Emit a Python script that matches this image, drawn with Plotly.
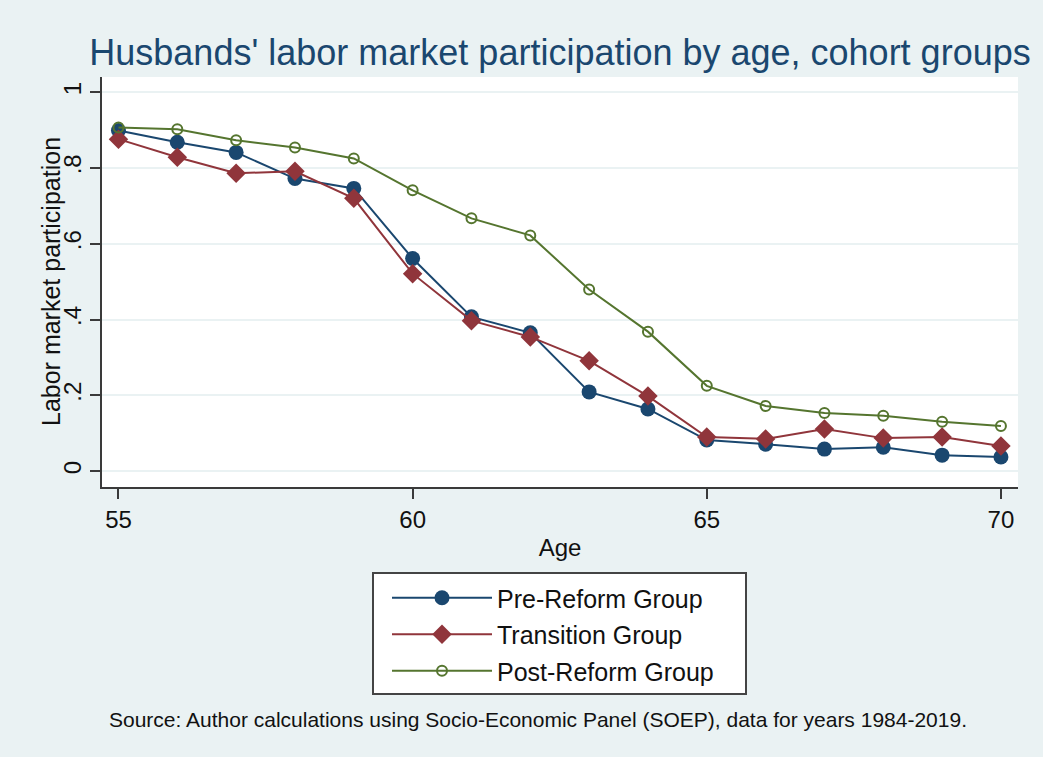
import plotly.graph_objects as go

ages = list(range(55, 71))
pre_reform = [0.899, 0.868, 0.841, 0.772, 0.746, 0.561, 0.407, 0.365, 0.209, 0.164,
              0.082, 0.071, 0.058, 0.063, 0.042, 0.037]
transition = [0.876, 0.828, 0.786, 0.791, 0.720, 0.521, 0.397, 0.354, 0.291, 0.198,
              0.090, 0.085, 0.111, 0.087, 0.090, 0.066]
post_reform = [0.907, 0.902, 0.873, 0.854, 0.825, 0.741, 0.667, 0.622, 0.479, 0.368,
               0.225, 0.172, 0.153, 0.146, 0.130, 0.119]
series_names = ["Pre-Reform Group", "Transition Group", "Post-Reform Group"]
x_ticks = [55, 60, 65, 70]
y_tickvals = [0, 0.2, 0.4, 0.6, 0.8, 1]
y_ticktext = ["0", ".2", ".4", ".6", ".8", "1"]

BG = "#EAF2F3"
FONT = "Arial, Liberation Sans, sans-serif"
AXIS = "#3a3a3a"
TXT = "#111111"

# pixel helpers for plot-area-relative paper coordinates
L, R, T, B, W, H = 102, 25, 77, 270, 1043, 757
PW, PH = W - L - R, H - T - B


def px_x(p):
    return (p - L) / PW


def px_y(p):
    return (H - B - p) / PH


fig = go.Figure()
fig.add_trace(go.Scatter(
    x=ages, y=pre_reform, name=series_names[0], mode="lines+markers",
    legendgroup="a",
    line=dict(color="#1a476f", width=2),
    marker=dict(symbol="circle", size=15, color="#1a476f"),
))
fig.add_trace(go.Scatter(
    x=ages, y=transition, name=series_names[1], mode="lines+markers",
    legendgroup="b",
    line=dict(color="#90353b", width=2),
    marker=dict(symbol="diamond", size=15, color="#90353b"),
))
fig.add_trace(go.Scatter(
    x=ages, y=post_reform, name=series_names[2], mode="lines+markers",
    legendgroup="c",
    line=dict(color="#55752f", width=2),
    marker=dict(symbol="circle-open", size=10, color="#55752f", line=dict(width=2, color="#55752f")),
))

fig.update_layout(
    width=W, height=H,
    paper_bgcolor=BG, plot_bgcolor="white",
    margin=dict(l=L, r=R, t=T, b=B),
    font=dict(family=FONT, color=TXT),
    title=dict(
        text="Husbands' labor market participation by age, cohort groups",
        font=dict(size=36, color="#1a476f", family=FONT),
        x=0.5, xref="paper", xanchor="center",
        y=1 - 52 / H, yref="container", yanchor="middle",
    ),
    xaxis=dict(
        range=[54.72, 70.29], tickvals=x_ticks, showgrid=False, zeroline=False,
        showline=True, linecolor=AXIS, linewidth=1.5,
        ticks="outside", ticklen=10, tickwidth=1.5, tickcolor=AXIS,
        tickfont=dict(size=24, color=TXT),
        title=dict(text="Age", font=dict(size=24, color=TXT), standoff=8),
    ),
    yaxis=dict(
        range=[-0.042, 1.040], tickvals=y_tickvals, ticktext=y_ticktext,
        tickangle=-90, showgrid=True, gridcolor=BG, gridwidth=2, zeroline=False,
        showline=True, linecolor=AXIS, linewidth=1.5,
        ticks="outside", ticklen=10, tickwidth=1.5, tickcolor=AXIS,
        tickfont=dict(size=24, color=TXT),
    ),
    legend=dict(
        x=px_x(387), xanchor="left", y=px_y(575), yanchor="top",
        bgcolor="rgba(0,0,0,0)", borderwidth=0,
        font=dict(size=25, color=TXT),
        traceorder="grouped", tracegroupgap=1,
        itemwidth=100,
    ),
    showlegend=True,
)

# legend frame
fig.add_shape(
    type="rect", xref="paper", yref="paper",
    x0=px_x(373), x1=px_x(746), y0=px_y(694), y1=px_y(573),
    line=dict(color="#444444", width=2), fillcolor="white", layer="below",
)

fig.add_annotation(
    text="Labor market participation",
    xref="paper", yref="paper", x=px_x(51), xanchor="center",
    y=px_y(282), yanchor="middle", textangle=-90, showarrow=False,
    font=dict(size=25, color=TXT, family=FONT),
)

fig.add_annotation(
    text="Source: Author calculations using Socio-Economic Panel (SOEP), data for years 1984-2019.",
    xref="paper", yref="paper", x=px_x(107), xanchor="left",
    y=px_y(719), yanchor="middle", showarrow=False,
    font=dict(size=21, color=TXT, family=FONT),
)

fig.write_html("out.html", post_script="document.body.style.margin='0';",
               config={"displayModeBar": False})
